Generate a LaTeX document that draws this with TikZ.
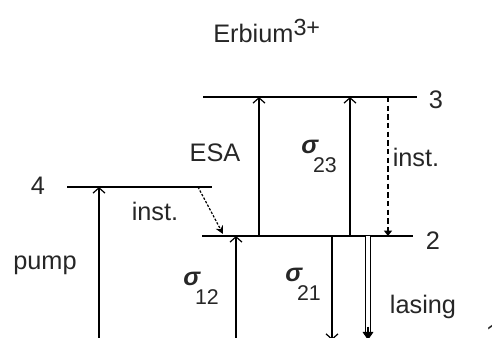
\documentclass[tikz,border=0pt]{standalone}
\usepackage{fontspec}
\setmainfont{Liberation Sans}
\usetikzlibrary{arrows.meta}
\newcommand{\sig}[1]{{\bfseries\itshape σ}\kern-0.2em\raisebox{-0.75em}{\fontsize{16}{18}\selectfont #1}}

\begin{document}
\begin{tikzpicture}[
  x=0.75pt, y=0.75pt,
  level/.style={line width=1.3pt},
  lbl/.style={inner sep=0pt, text=black!85, font=\fontsize{19}{22}\selectfont},
  absorb/.style={-{Straight Barb[length=4pt,width=9pt]}, line width=0.9pt},
  emit/.style={-{Straight Barb[length=4pt,width=9pt]}, line width=0.9pt},
  lase/.style={double, double distance=2.4pt, line width=1pt},
  lasetip/.style={line width=0.9pt, -{Triangle[length=6pt,width=8pt]}},
  decay/.style={dash pattern=on 4pt off 2.5pt, line width=0.8pt, -{Triangle[length=4pt,width=6pt]}},
  hop/.style={dash pattern=on 1.8pt off 1.2pt, line width=0.9pt, -{Stealth[length=6pt,width=6pt]}}
]

\useasboundingbox (0,0) rectangle (492,338);

\coordinate (w1) at (60,-2);   \coordinate (e1) at (480,-2);
\coordinate (w2) at (202,102); \coordinate (e2) at (413,102);
\coordinate (w3) at (203,241); \coordinate (e3) at (417,241);
\coordinate (w4) at (67,151);  \coordinate (e4) at (212,151);

\foreach \n in {1,2,3,4}
  \draw[level] (w\n) -- (e\n);

\node[lbl] (n1) at (493,4) {1};
\node[lbl] (n2) at (433,97) {2};
\node[lbl] (n3) at (436,238) {3};
\node[lbl] (n4) at (38,152) {4};

\coordinate (pump) at (99,-2);
\coordinate (gsa) at (236,-2);
\coordinate (esa) at (259,102);
\coordinate (s23) at (350,102);
\coordinate (s21) at (332,102);
\coordinate (las) at (368,102);
\coordinate (lasend) at (368,-2);
\coordinate (rel3) at (388,241);
\coordinate (rel4) at (198,151);
\coordinate (rel4to) at (223,104);

\foreach \s/\t in {pump/w4, gsa/w2, esa/w3, s23/w3}
  \draw[absorb] (\s) -- (\s |- \t);
\draw[emit] (s21) -- (s21 |- w1);
\draw[lase] (las) -- ([yshift=6]lasend);
\draw[lasetip] ([yshift=10]lasend) -- (lasend);
\draw[decay] (rel3) -- (rel3 |- w2);
\draw[hop] (rel4) -- (rel4to);

\node[lbl, anchor=base west] (erb) at (213,295) {Erbium\raisebox{5.5pt}{\fontsize{17.5}{20}\selectfont 3+}};
\node[lbl] (esalbl) at (215,185) {ESA};
\node[lbl] (inst3) at (416,181) {inst.};
\node[lbl] (inst4) at (155,127) {inst.};
\node[lbl] (pumplbl) at (45,73) {pump};
\node[lbl] (laslbl) at (423,31) {lasing};
\node[lbl] (sig12) at (201,50) {\sig{12}};
\node[lbl] (sig23) at (319,182) {\sig{23}};
\node[lbl] (sig21) at (303,54) {\sig{21}};

\end{tikzpicture}
\end{document}
